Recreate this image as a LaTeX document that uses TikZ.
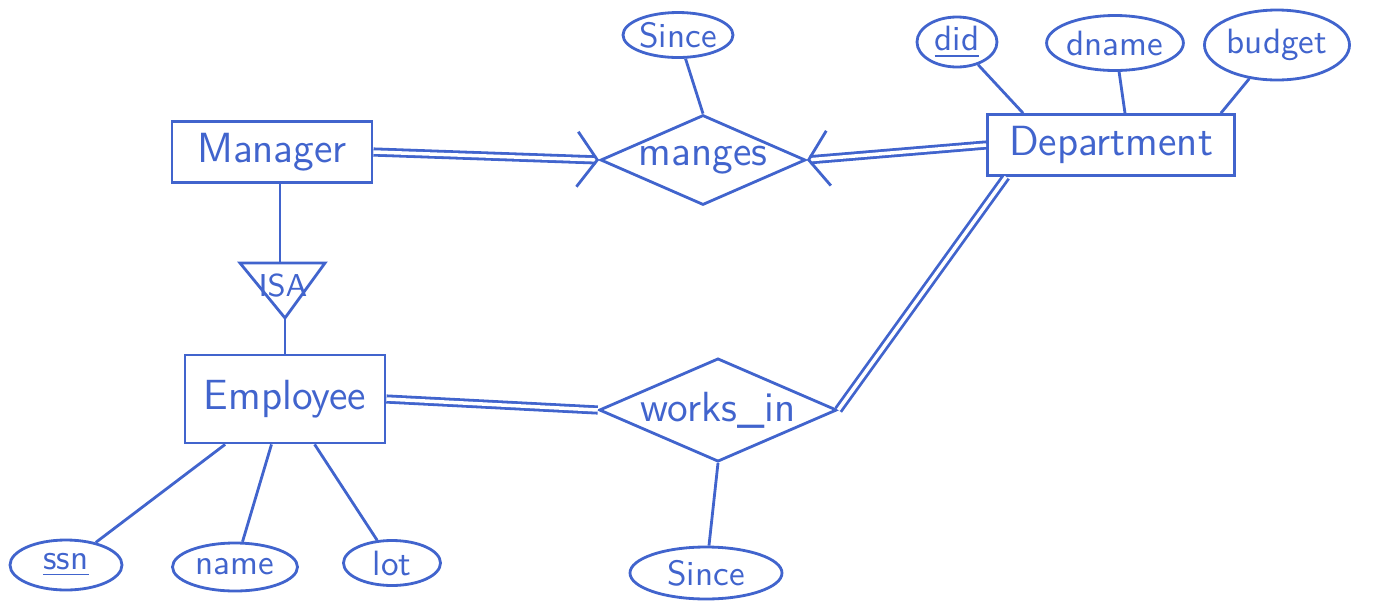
\documentclass[tikz,border=0pt]{standalone}
\usetikzlibrary{arrows.meta,shapes.geometric}
\definecolor{pen}{RGB}{65,100,205}
\begin{document}
\begin{tikzpicture}[color=pen,line width=.8pt,every node/.style={font=\sffamily\large},
ent/.style={draw,minimum width=2cm,minimum height=.6cm},
rel/.style={draw,diamond,aspect=2.3,inner sep=0pt,minimum width=2.05cm,minimum height=.9cm},
attr/.style={draw,ellipse,inner sep=0pt,font=\sffamily},
tot/.style={double,double distance=1pt},
key/.style={-{Straight Barb[length=2mm,width=5.5mm]}}]
\useasboundingbox (0,0) rectangle (13.9,6.05);
\node[ent] (manager) at (2.72,4.53){Manager};\node[ent,minimum width=2.47cm] (department) at (11.11,4.60){Department};
\node[ent,minimum height=.88cm] (employee) at (2.85,2.06){Employee};
\node[rel] (manges) at (7.03,4.45){manges};\node[rel,minimum height=1.03cm] (worksin) at (7.18,1.95){works\_in};
\node[attr,minimum width=1.1cm,minimum height=.45cm] (since1) at (6.78,5.70){Since};
\node[attr,minimum width=1.52cm,minimum height=.52cm] (since2) at (7.06,.32){Since};
\node[attr,minimum width=.8cm,minimum height=.5cm] (did) at (9.57,5.63){\underline{did}};
\node[attr,minimum width=1.3cm,minimum height=.55cm] (dname) at (11.15,5.62){dname};
\node[attr,minimum width=1.45cm,minimum height=.7cm] (budget) at (12.77,5.60){budget};
\node[attr,minimum width=1.12cm,minimum height=.5cm] (ssn) at (.66,.40){\underline{ssn}};
\node[attr,minimum width=1.25cm,minimum height=.48cm] (name) at (2.35,.38){name};
\node[attr,minimum width=.97cm,minimum height=.45cm] (lot) at (3.92,.42){lot};
\coordinate (isal) at (2.40,3.42);\coordinate (isar) at (3.25,3.42);\coordinate (isab) at (2.85,2.87);\coordinate (isatop) at (2.80,3.42);
\draw (isal)--(isar)--(isab)--cycle;\node[font=\sffamily\small] (isa) at (2.83,3.19){ISA};
\draw (manager.south -| isatop)--(isatop);\draw (isab)--(employee);
\draw[tot,key] (manager.east)--(manges.west);\draw[tot,key] (department.west)--(manges.east);
\draw[tot] (employee.east)--(worksin.west);\draw[tot] ([xshift=2mm]department.south west)--(worksin.east);
\draw (since1)--(manges.north);\draw (worksin.south)--(since2);
\draw (did)--([xshift=3.7mm]department.north west);\draw (dname)--([xshift=1.4mm]department.north);\draw (budget)--([xshift=-1.5mm]department.north east);
\draw (employee)--(ssn);\draw (employee)--(name);\draw (employee)--(lot);
\end{tikzpicture}
\end{document}
